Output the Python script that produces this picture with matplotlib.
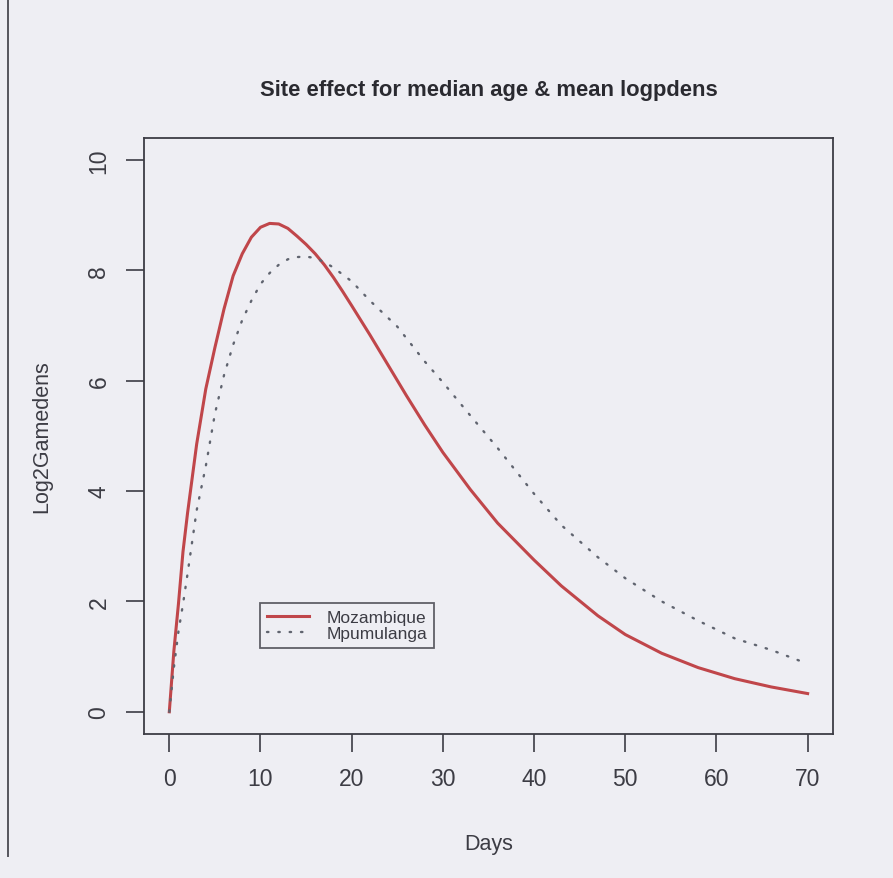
import matplotlib
matplotlib.use('Agg')
import matplotlib.pyplot as plt
from matplotlib.lines import Line2D

plt.rcParams['font.family'] = ['Liberation Sans', 'DejaVu Sans']

# values
moz_days = [0, 0.5, 1, 1.5, 2, 3, 4, 5, 6, 7, 8, 9, 10, 11, 12, 13, 14, 15, 16, 17, 18, 19,
            20, 22, 24, 26, 28, 30, 33, 36, 40, 43, 47, 50, 54, 58, 62, 66, 70]
moz_vals = [0.0, 1.1, 1.95, 2.9, 3.6, 4.85, 5.85, 6.6, 7.3, 7.9, 8.3, 8.6, 8.78, 8.85, 8.84,
            8.76, 8.62, 8.47, 8.3, 8.1, 7.87, 7.62, 7.36, 6.83, 6.28, 5.73, 5.2, 4.7, 4.03,
            3.42, 2.75, 2.28, 1.74, 1.4, 1.06, 0.8, 0.6, 0.45, 0.33]

mpu_days = [0, 0.5, 1, 1.5, 2, 3, 4, 5, 6, 7, 8, 9, 10, 11, 12, 13, 14, 15, 16, 17, 18,
            20, 22, 25, 28, 30, 33, 36, 40, 43, 47, 50, 54, 58, 62, 66, 70]
mpu_vals = [0.0, 0.8, 1.45, 1.95, 2.5, 3.65, 4.45, 5.4, 6.1, 6.65, 7.1, 7.45, 7.75, 7.95,
            8.1, 8.2, 8.24, 8.25, 8.22, 8.15, 8.05, 7.8, 7.45, 6.98, 6.35, 5.97, 5.37,
            4.78, 3.95, 3.38, 2.8, 2.42, 2.0, 1.65, 1.33, 1.12, 0.87]

x_ticks = [0, 10, 20, 30, 40, 50, 60, 70]
y_ticks = [0, 2, 4, 6, 8, 10]

BG = '#eeeef3'
INK = '#3c3c44'
RED = '#c0464a'
DOT = '#60646f'

fig = plt.figure(figsize=(8.93, 8.79), dpi=100, facecolor=BG)
ax = fig.add_axes([0.161, 0.164, 0.772, 0.678], facecolor=BG)

ax.plot(moz_days, moz_vals, color=RED, linewidth=2.2, label='Mozambique')
ax.plot(mpu_days, mpu_vals, color=DOT, linewidth=1.7, linestyle=(0, (0.6, 4.2)),
        dash_capstyle='round', label='Mpumulanga')

ax.set_xlim(-2.8, 72.8)
ax.set_ylim(-0.4, 10.4)
ax.set_xticks(x_ticks)
ax.set_yticks(y_ticks)
ax.set_yticklabels([str(v) for v in y_ticks], rotation=90, va='center')
ax.tick_params(axis='both', direction='out', length=13, width=1.2, color=INK,
               labelcolor=INK, labelsize=16.5, pad=11)
for s in ax.spines.values():
    s.set_color(INK)
    s.set_linewidth(1.3)

ax.set_xlabel('Days', fontsize=15.5, color=INK, labelpad=31)
ax.set_ylabel('Log2Gamedens', fontsize=15.5, color=INK, labelpad=25)
ax.set_title('Site effect for median age & mean logpdens', fontsize=15.8, fontweight='bold',
             color='#2a2a30', pad=31)

leg = ax.legend(loc='upper left', bbox_to_anchor=(10, 1.98), bbox_transform=ax.transData,
                fontsize=12.5, frameon=True, fancybox=False, borderpad=0.4, handlelength=2.4,
                labelspacing=0.05, borderaxespad=0, handletextpad=1.0)
leg.get_frame().set_edgecolor(INK)
leg.get_frame().set_linewidth(1.3)
leg.get_frame().set_facecolor(BG)
for t in leg.get_texts():
    t.set_color(INK)

# page edge visible on the scan
fig.add_artist(Line2D([0.009, 0.009], [0.025, 1.0], color='#55555c', linewidth=1.4))

fig.savefig('out.png', dpi=100, facecolor=BG)
